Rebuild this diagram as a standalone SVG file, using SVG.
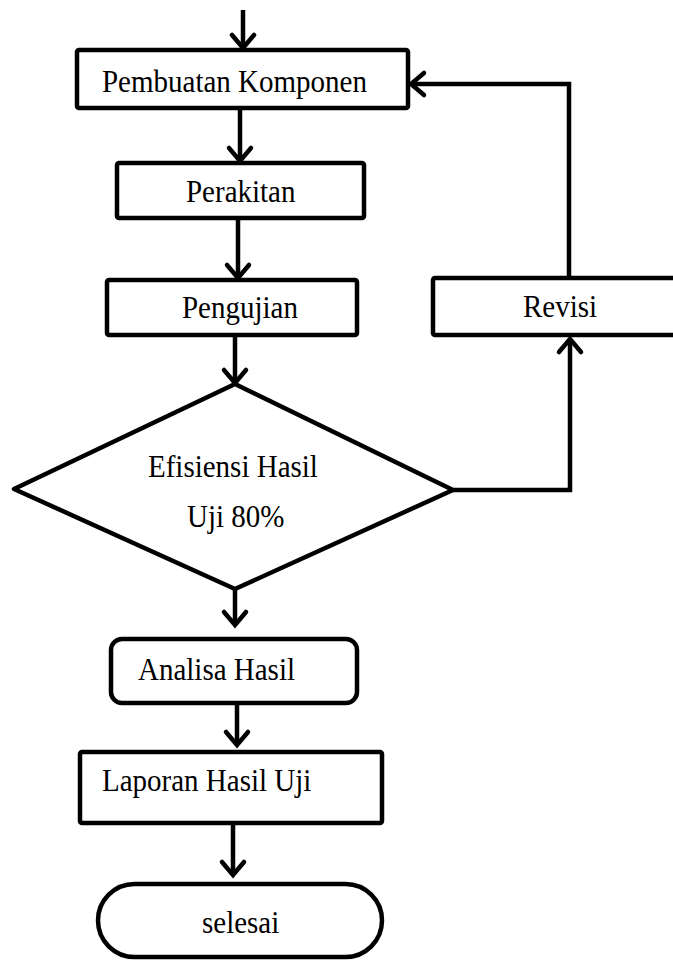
<svg xmlns="http://www.w3.org/2000/svg" width="673" height="960" viewBox="0 0 673 960">
<defs>
<style>
.box{fill:#fff;stroke:#000;stroke-width:4.5;stroke-linejoin:round}
.lbl{font-family:"Liberation Serif","Times New Roman",serif;font-size:29px;fill:#000}
.con{fill:none;stroke:#000;stroke-width:4.5;stroke-linejoin:miter}
</style>
<marker id="ah" markerUnits="userSpaceOnUse" markerWidth="40" markerHeight="40" viewBox="-20 -20 40 40" refX="0" refY="0" orient="auto">
<path d="M-13,-11 L0,0 L-13,11" fill="none" stroke="#000" stroke-width="4.5" stroke-linecap="round" stroke-linejoin="miter"/>
</marker>
</defs>
<rect width="673" height="960" fill="#fff"/>
<g id="connectors">
<line class="con" x1="243" y1="10" x2="243" y2="48" marker-end="url(#ah)"/>
<line class="con" x1="240" y1="108" x2="240" y2="161" marker-end="url(#ah)"/>
<line class="con" x1="238" y1="218" x2="238" y2="278" marker-end="url(#ah)"/>
<line class="con" x1="235" y1="335" x2="235" y2="383" marker-end="url(#ah)"/>
<line class="con" x1="235" y1="589" x2="235" y2="625" marker-end="url(#ah)"/>
<line class="con" x1="237" y1="703" x2="237" y2="745" marker-end="url(#ah)"/>
<line class="con" x1="233" y1="823" x2="233" y2="875" marker-end="url(#ah)"/>
<polyline class="con" points="453,490 570,490 570,339" marker-end="url(#ah)"/>
<polyline class="con" points="569,278 569,84 411,84" marker-end="url(#ah)"/>
</g>
<g id="pembuatan">
<rect class="box" x="77" y="50" width="331" height="58" rx="2"/>
<text class="lbl" transform="translate(102,92) scale(1,1.08)">Pembuatan Komponen</text>
</g>
<g id="perakitan">
<rect class="box" x="117" y="163" width="247" height="55" rx="2"/>
<text class="lbl" transform="translate(186,202) scale(1,1.08)">Perakitan</text>
</g>
<g id="pengujian">
<rect class="box" x="107" y="280" width="250" height="55" rx="2"/>
<text class="lbl" transform="translate(182,318) scale(1,1.08)">Pengujian</text>
</g>
<g id="revisi">
<rect class="box" x="433" y="278" width="250" height="57" rx="2"/>
<text class="lbl" transform="translate(523,317) scale(1,1.08)">Revisi</text>
</g>
<g id="efisiensi">
<polygon class="box" points="235,384 453,490 235,589 14,489" stroke-linejoin="miter"/>
<text class="lbl" transform="translate(148,477) scale(1,1.08)">Efisiensi Hasil</text>
<text class="lbl" transform="translate(187,527) scale(1,1.08)">Uji 80%</text>
</g>
<g id="analisa">
<rect class="box" x="111" y="639" width="246" height="64" rx="11"/>
<text class="lbl" transform="translate(138,680) scale(1,1.08)">Analisa Hasil</text>
</g>
<g id="laporan">
<rect class="box" x="80" y="752" width="302" height="71" rx="2"/>
<text class="lbl" transform="translate(102,791) scale(1,1.08)">Laporan Hasil Uji</text>
</g>
<g id="selesai">
<rect class="box" x="98" y="884" width="284" height="73" rx="36.5"/>
<text class="lbl" transform="translate(202,933) scale(1,1.08)">selesai</text>
</g>
</svg>
